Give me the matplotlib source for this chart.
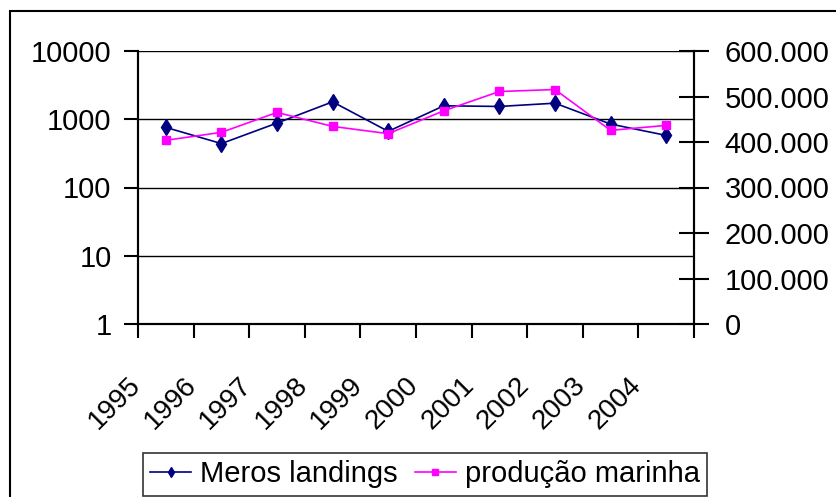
import matplotlib
matplotlib.use('Agg')
import matplotlib.pyplot as plt
import matplotlib.ticker as mticker
from matplotlib.transforms import ScaledTranslation
from matplotlib.patches import Rectangle

plt.rcParams['font.family'] = ['Liberation Sans', 'DejaVu Sans']
plt.rcParams['font.size'] = 21

# dados
anos = ['1995', '1996', '1997', '1998', '1999', '2000', '2001', '2002', '2003', '2004']
meros_landings = [760, 440, 880, 1800, 665, 1575, 1540, 1720, 850, 580]
producao_marinha = [403700, 421200, 465000, 434300, 418300, 468600, 511000, 515300, 425600, 436500]

fig = plt.figure(figsize=(8.36, 4.97), dpi=100)
ax = fig.add_axes([138 / 836, 1 - 324 / 497, (694 - 138) / 836, (324 - 51) / 497])
ax2 = ax.twinx()

# moldura da área do gráfico (estilo Excel)
fig.patches.append(Rectangle((10 / 836, -0.2), 1.2, 1.2 - 11 / 497, transform=fig.transFigure,
                             fill=False, edgecolor='black', lw=1.5))

pos = [i + 0.5 for i in range(len(anos))]
l1, = ax.plot(pos, meros_landings, color='#000080', marker='d', ms=8, lw=1.2,
              label='Meros landings')
l2, = ax2.plot(pos, producao_marinha, color='#FF00FF', marker='s', ms=6, lw=1.2,
               label='produção marinha')

# eixo esquerdo (log)
ax.set_yscale('log')
ax.set_ylim(1, 10000)
ax.yaxis.set_major_locator(mticker.LogLocator(base=10, numticks=10))
ax.yaxis.set_minor_locator(mticker.NullLocator())
ax.yaxis.set_major_formatter(mticker.FuncFormatter(lambda v, p: f'{v:.0f}'))
ax.yaxis.grid(True, color='black', lw=1)
ax.tick_params(axis='y', direction='out', length=10, width=1.5, pad=9)

# eixo direito
ax2.set_ylim(0, 600000)
ax2.yaxis.set_major_locator(mticker.MultipleLocator(100000))
ax2.yaxis.set_major_formatter(mticker.FuncFormatter(
    lambda v, p: '0' if v == 0 else f'{v:,.0f}'.replace(',', '.')))
ax2.tick_params(axis='y', direction='inout', length=22, width=1.5, pad=11)

# eixo x: marcas nos limites das categorias, rótulos no centro
ax.set_xlim(0, len(anos))
ax.set_xticks(range(len(anos) + 1))
ax.set_xticklabels([])
ax.set_xticks(pos, minor=True)
ax.set_xticklabels(anos, minor=True, rotation=45, ha='right', va='top', fontsize=20)
ax.tick_params(axis='x', which='major', direction='out', length=10, width=1.5)
ax.tick_params(axis='x', which='minor', length=0, pad=0)
desloc = ScaledTranslation(-20 / 100, -48 / 100, fig.dpi_scale_trans)
for lab in ax.get_xticklabels(minor=True):
    lab.set_transform(lab.get_transform() + desloc)

for a in (ax, ax2):
    a.spines['top'].set_visible(False)
    for s in ('left', 'right', 'bottom'):
        a.spines[s].set_linewidth(1.5)

leg = fig.legend(handles=[l1, l2], loc='upper left', bbox_to_anchor=(143 / 836, 1 - 453 / 497),
                 ncol=2, frameon=True, fancybox=False, edgecolor='black', borderpad=0.25,
                 handlelength=1.4, handletextpad=0.3, columnspacing=0.6, borderaxespad=0,
                 markerscale=0.7)
leg.get_frame().set_linewidth(1.2)

fig.savefig('out.png', dpi=100)
